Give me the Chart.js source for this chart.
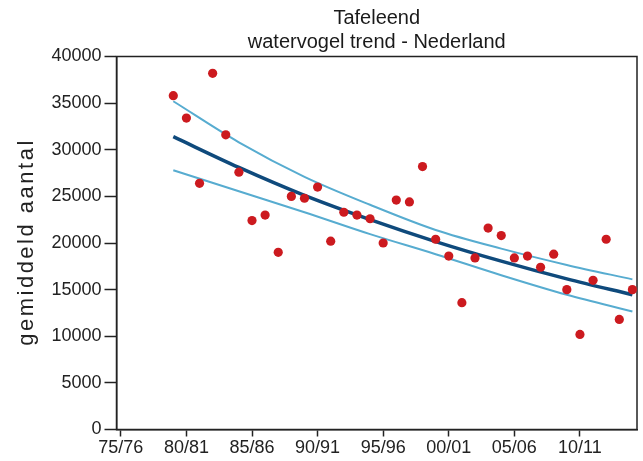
<!DOCTYPE html>
<html>
<head>
<meta charset="utf-8">
<script src="https://cdn.jsdelivr.net/npm/chart.js@4"></script>
<style>
html,body{margin:0;padding:0;background:#fff;}
#wrap{width:643px;height:461px;position:relative;}
</style>
</head>
<body>
<div id="wrap"><canvas id="c"></canvas></div>
<script>
// Seasons on the x axis (index = position)
const seasons = ['75/76','76/77','77/78','78/79','79/80','80/81','81/82','82/83','83/84','84/85',
  '85/86','86/87','87/88','88/89','89/90','90/91','91/92','92/93','93/94','94/95',
  '95/96','96/97','97/98','98/99','99/00','00/01','01/02','02/03','03/04','04/05',
  '05/06','06/07','07/08','08/09','09/10','10/11','11/12','12/13','13/14','14/15'];
const tickSeasons = ['75/76','80/81','85/86','90/91','95/96','00/01','05/06','10/11'];

// Observed counts, seasons 79/80 .. 14/15
const countSeasons = seasons.slice(4);
const counts = [35800, 33400, 26400, 38200, 31600, 27600, 22400, 23000, 19000, 25000,
  24800, 26000, 20200, 23300, 23000, 22600, 20000, 24600, 24400, 28200,
  20400, 18600, 13600, 18400, 21600, 20800, 18400, 18600, 17400, 18800,
  15000, 10200, 16000, 20400, 11800, 15000];

// Trend and confidence band, read at every fifth season
const trendSeasons = ['79/80','84/85','89/90','94/95','99/00','04/05','09/10','14/15'];
const trend = [31400, 28100, 25100, 22500, 20150, 18050, 16150, 14450];
const upper = [35200, 30800, 27100, 24100, 21400, 19400, 17650, 16100];
const lower = [27800, 25550, 23300, 20950, 18800, 16550, 14450, 12650];

const yTicks = [0, 5000, 10000, 15000, 20000, 25000, 30000, 35000, 40000];
const titleLines = ['Tafeleend', 'watervogel trend - Nederland'];
const yTitle = 'gemiddeld aantal';

const idx = s => seasons.indexOf(s);
const pts = (labs, vals) => labs.map((s, i) => ({x: idx(s), y: vals[i]}));

const frame = {
  id: 'frame',
  beforeDatasetsDraw(chart) {
    const a = chart.chartArea, ctx = chart.ctx;
    ctx.save();
    ctx.strokeStyle = '#222';
    ctx.lineWidth = 1.5;
    ctx.strokeRect(a.left, a.top, a.right - a.left, a.bottom - a.top);
    ctx.restore();
  },
  afterDraw(chart) {
    const a = chart.chartArea, ctx = chart.ctx;
    ctx.save();
    ctx.translate(33, (a.top + a.bottom) / 2);
    ctx.rotate(-Math.PI / 2);
    ctx.font = '22px "Liberation Sans", Arial, sans-serif';
    ctx.fillStyle = '#222';
    ctx.letterSpacing = '2.5px';
    ctx.textAlign = 'center';
    ctx.textBaseline = 'alphabetic';
    ctx.fillText(yTitle, 1, 0);
    ctx.restore();
  }
};

const tickFont = {family: '"Liberation Sans", Arial, sans-serif', size: 18};

new Chart(document.getElementById('c'), {
  type: 'scatter',
  data: {
    datasets: [
      {
        label: 'aantal',
        data: pts(countSeasons, counts),
        backgroundColor: '#cc1a1f',
        borderColor: '#cc1a1f',
        pointRadius: 4.6,
        pointBorderWidth: 0,
        showLine: false
      },
      {
        label: 'trend',
        data: pts(trendSeasons, trend),
        showLine: true,
        borderColor: '#0f4a7c',
        borderWidth: 3.5,
        pointRadius: 0,
        cubicInterpolationMode: 'monotone'
      },
      {
        label: 'boven',
        data: pts(trendSeasons, upper),
        showLine: true,
        borderColor: '#57acd0',
        borderWidth: 2,
        pointRadius: 0,
        cubicInterpolationMode: 'monotone'
      },
      {
        label: 'onder',
        data: pts(trendSeasons, lower),
        showLine: true,
        borderColor: '#57acd0',
        borderWidth: 2,
        pointRadius: 0,
        cubicInterpolationMode: 'monotone'
      }
    ]
  },
  options: {
    responsive: true,
    maintainAspectRatio: false,
    animation: false,
    layout: {padding: {left: 0, right: 6, top: 0, bottom: 0}},
    plugins: {
      legend: {display: false},
      tooltip: {enabled: false},
      title: {
        display: true,
        fullSize: false,
        text: titleLines,
        color: '#1a1a1a',
        font: {family: '"Liberation Sans", Arial, sans-serif', size: 20, weight: 'normal', lineHeight: 1.2},
        padding: {top: 6, bottom: 2.5}
      }
    },
    scales: {
      x: {
        type: 'linear',
        min: -0.33,
        max: 39.35,
        afterBuildTicks: s => { s.ticks = tickSeasons.map(t => ({value: idx(t)})); },
        afterFit: s => { s.height = 31.5; },
        ticks: {
          autoSkip: false,
          maxRotation: 0,
          color: '#222',
          font: tickFont,
          padding: 1,
          callback: v => seasons[v]
        },
        grid: {drawOnChartArea: false, drawTicks: true, tickLength: 7, tickColor: '#222', tickWidth: 1.5},
        border: {display: true, color: '#222', width: 1.5}
      },
      y: {
        min: 0,
        max: 40000,
        afterBuildTicks: s => { s.ticks = yTicks.map(v => ({value: v})); },
        afterFit: s => { s.width = 116.5; },
        ticks: {
          color: '#222',
          font: tickFont,
          padding: 3,
          callback: v => String(v)
        },
        grid: {drawOnChartArea: false, drawTicks: true, tickLength: 12, tickColor: '#222', tickWidth: 1.5},
        border: {display: true, color: '#222', width: 1.5}
      }
    }
  },
  plugins: [frame]
});
</script>
</body>
</html>
